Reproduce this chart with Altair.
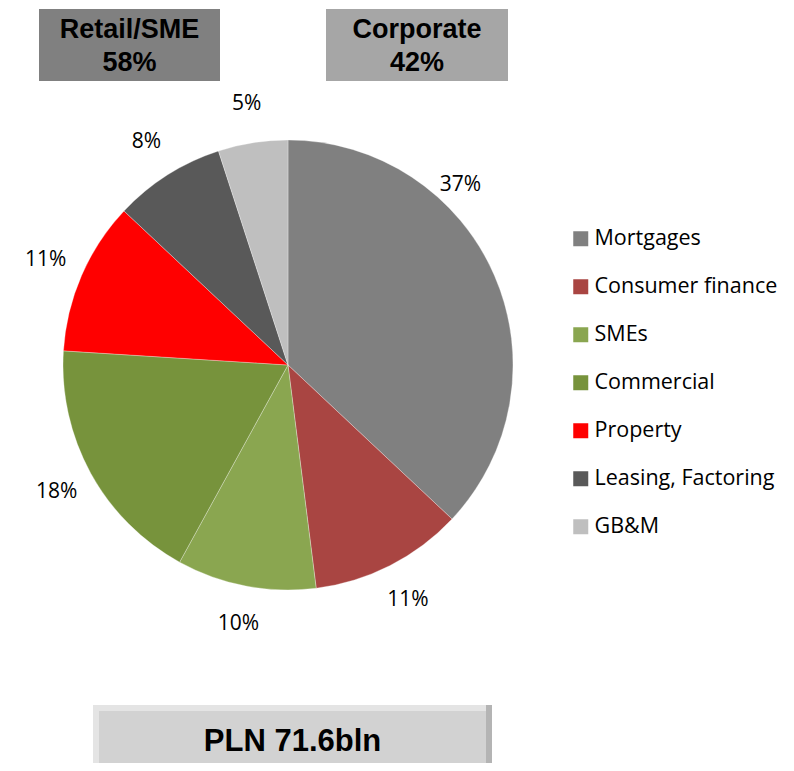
import altair as alt
import pandas as pd

# ---- data ----
categories = ["Mortgages", "Consumer finance", "SMEs", "Commercial", "Property", "Leasing, Factoring", "GB&M"]
shares = [37, 11, 10, 18, 11, 8, 5]
colors = ["#808080", "#a94542", "#8aa650", "#77933c", "#ff0000", "#595959", "#bfbfbf"]
segments = ["Retail/SME", "Corporate"]
segment_shares = ["58%", "42%"]
total_label = "PLN 71.6bln"

pie_df = pd.DataFrame({
    "category": categories,
    "value": shares,
    "order": list(range(len(categories))),
    "label": [f"{v}%" for v in shares],
})

FONT = "Open Sans"
CX, CY, R = 280, 357, 225

color_enc = alt.Color(
    "category:N",
    scale=alt.Scale(domain=categories, range=colors),
    legend=alt.Legend(
        title=None, orient="none", legendX=562, legendY=220,
        symbolType="square", symbolSize=225, symbolStrokeWidth=0,
        labelFont=FONT, labelFontSize=21.5, labelColor="#000000",
        labelOffset=3, rowPadding=25, padding=0, labelLimit=400,
    ),
    sort=categories,
)

base = alt.Chart(pie_df).encode(
    theta=alt.Theta("value:Q", stack=True),
    order=alt.Order("order:Q"),
)

arcs = base.mark_arc(outerRadius=R, stroke="#ffffff", strokeWidth=0.3).encode(
    color=color_enc,
    x=alt.value(CX), y=alt.value(CY),
)

labels = base.mark_text(radius=264, font=FONT, fontSize=21, color="#000000").encode(
    text=alt.condition("datum.category == 'Mortgages'", alt.value(""), alt.Text("label:N")),
    x=alt.value(CX), y=alt.value(CY),
)

label_main = base.mark_text(radius=262, dx=-68, dy=-76, font=FONT, fontSize=21, color="#000000").encode(
    text=alt.condition("datum.category == 'Mortgages'", alt.Text("label:N"), alt.value("")),
    x=alt.value(CX), y=alt.value(CY),
)

# ---- header boxes ----
seg_df = pd.DataFrame({"segment": segments, "share": segment_shares})

def header(i, x1, x2, fill):
    d = alt.Chart(seg_df).transform_filter(alt.datum.segment == segments[i])
    box = d.mark_rect(color=fill).encode(
        x=alt.value(x1), x2=alt.value(x2), y=alt.value(1), y2=alt.value(73))
    t1 = d.mark_text(font="Liberation Sans", fontWeight="bold", fontSize=27, color="#000000",
                     baseline="middle").encode(
        x=alt.value((x1 + x2) / 2), y=alt.value(22), text="segment:N")
    t2 = d.mark_text(font="Liberation Sans", fontWeight="bold", fontSize=27, color="#000000",
                     baseline="middle").encode(
        x=alt.value((x1 + x2) / 2), y=alt.value(55), text="share:N")
    return box + t1 + t2

h1 = header(0, 31, 212, "#808080")
h2 = header(1, 318, 500, "#a6a6a6")

# ---- total box (beveled) ----
tot_df = pd.DataFrame({"total": [total_label]})
tb = alt.Chart(tot_df)
bx1, bx2, by1, by2 = 85, 484, 697, 770
outer_dark = tb.mark_rect(color="#b4b4b4").encode(
    x=alt.value(bx1), x2=alt.value(bx2), y=alt.value(by1), y2=alt.value(by2))
outer_light = tb.mark_rect(color="#e4e4e4").encode(
    x=alt.value(bx1), x2=alt.value(bx2 - 6), y=alt.value(by1), y2=alt.value(by2))
inner = tb.mark_rect(color="#d2d2d2").encode(
    x=alt.value(bx1 + 6), x2=alt.value(bx2 - 6), y=alt.value(by1 + 6), y2=alt.value(by2))
tot_text = tb.mark_text(font="Liberation Sans", fontWeight="bold", fontSize=31, color="#000000",
                        baseline="middle").encode(
    x=alt.value((bx1 + bx2) / 2), y=alt.value(734), text="total:N")

chart = alt.layer(
    arcs, labels, label_main, h1, h2, outer_dark, outer_light, inner, tot_text
).properties(
    width=778, height=755,
    autosize=alt.AutoSizeParams(type="none"),
    padding=0,
).configure(background="#ffffff").configure_view(stroke=None, strokeWidth=0)

chart.save("out.html", embed_options={"renderer": "svg", "actions": False})
